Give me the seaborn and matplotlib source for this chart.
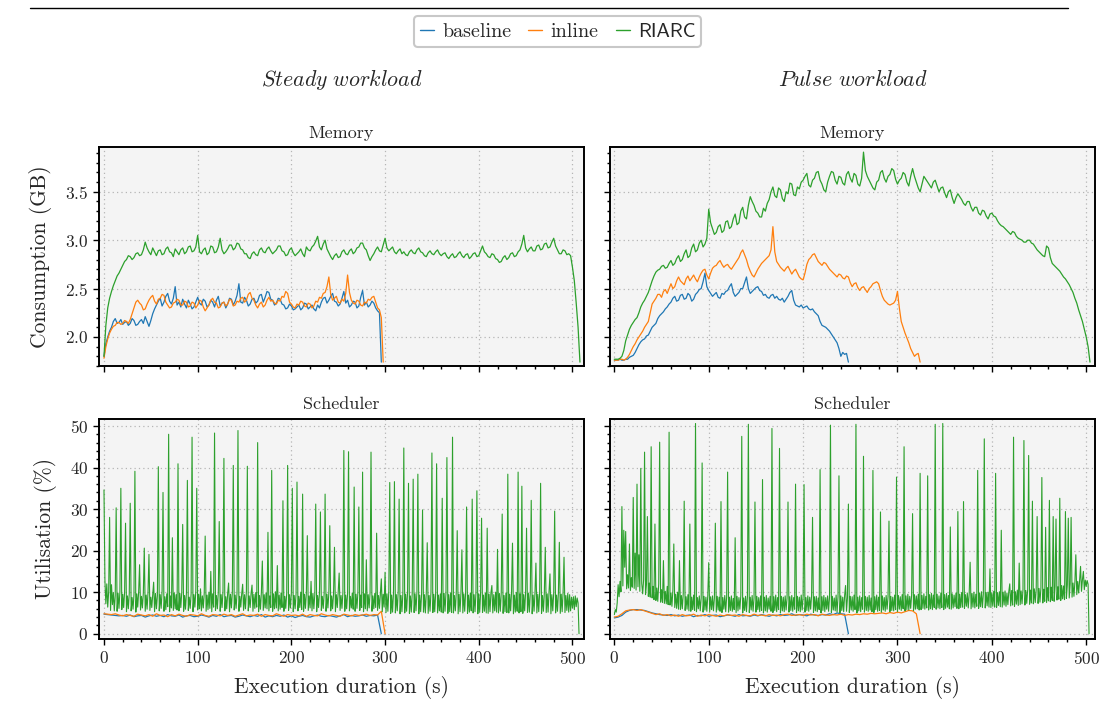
import numpy as np
import matplotlib
matplotlib.use("Agg")
import matplotlib.pyplot as plt
import seaborn as sns
from matplotlib.lines import Line2D
from matplotlib.ticker import MultipleLocator

# ---- memory consumption (GB), one sample every 2 s ----
steady_mem_baseline = [
    1.80, 1.93, 2.00, 2.06, 2.10, 2.16, 2.19, 2.14, 2.15, 2.18,
    2.13, 2.15, 2.16, 2.12, 2.14, 2.19, 2.17, 2.12, 2.13, 2.16,
    2.18, 2.14, 2.21, 2.16, 2.11, 2.17, 2.24, 2.29, 2.33, 2.37,
    2.40, 2.32, 2.36, 2.42, 2.45, 2.37, 2.34, 2.40, 2.52, 2.33,
    2.36, 2.31, 2.39, 2.34, 2.30, 2.38, 2.34, 2.29, 2.31, 2.36,
    2.41, 2.35, 2.33, 2.39, 2.37, 2.31, 2.33, 2.38, 2.36, 2.31,
    2.38, 2.42, 2.32, 2.35, 2.36, 2.30, 2.34, 2.40, 2.39, 2.33,
    2.37, 2.43, 2.55, 2.36, 2.35, 2.41, 2.38, 2.32, 2.34, 2.39,
    2.40, 2.35, 2.37, 2.43, 2.44, 2.36, 2.41, 2.47, 2.46, 2.39,
    2.38, 2.33, 2.35, 2.40, 2.39, 2.34, 2.33, 2.29, 2.30, 2.34,
    2.32, 2.28, 2.29, 2.31, 2.33, 2.28, 2.30, 2.35, 2.34, 2.29,
    2.31, 2.33, 2.29, 2.27, 2.33, 2.30, 2.36, 2.40, 2.41, 2.35,
    2.38, 2.42, 2.45, 2.37, 2.36, 2.32, 2.34, 2.40, 2.47, 2.35,
    2.38, 2.31, 2.33, 2.37, 2.36, 2.30, 2.32, 2.41, 2.48, 2.33,
    2.36, 2.31, 2.33, 2.37, 2.35, 2.30, 2.27, 2.25, 1.74]
steady_mem_inline = [
    1.78, 1.90, 1.98, 2.04, 2.08, 2.11, 2.12, 2.15, 2.15, 2.13,
    2.14, 2.17, 2.16, 2.14, 2.18, 2.24, 2.30, 2.36, 2.38, 2.35,
    2.33, 2.28, 2.29, 2.34, 2.38, 2.41, 2.43, 2.37, 2.34, 2.39,
    2.40, 2.44, 2.43, 2.36, 2.33, 2.30, 2.31, 2.35, 2.36, 2.39,
    2.38, 2.33, 2.33, 2.37, 2.36, 2.31, 2.32, 2.36, 2.35, 2.30,
    2.33, 2.38, 2.37, 2.31, 2.27, 2.30, 2.33, 2.38, 2.40, 2.36,
    2.35, 2.30, 2.31, 2.35, 2.36, 2.32, 2.34, 2.39, 2.38, 2.32,
    2.33, 2.37, 2.36, 2.40, 2.41, 2.36, 2.38, 2.44, 2.46, 2.40,
    2.38, 2.33, 2.30, 2.34, 2.36, 2.31, 2.33, 2.38, 2.41, 2.37,
    2.38, 2.35, 2.34, 2.38, 2.37, 2.42, 2.41, 2.47, 2.45, 2.36,
    2.34, 2.31, 2.30, 2.34, 2.33, 2.37, 2.36, 2.32, 2.31, 2.35,
    2.34, 2.30, 2.32, 2.37, 2.36, 2.41, 2.40, 2.45, 2.46, 2.52,
    2.62, 2.44, 2.38, 2.40, 2.42, 2.36, 2.35, 2.39, 2.37, 2.45,
    2.64, 2.46, 2.38, 2.35, 2.34, 2.38, 2.37, 2.33, 2.32, 2.36,
    2.35, 2.39, 2.38, 2.41, 2.42, 2.36, 2.30, 2.28, 2.20, 1.74]
steady_mem_riarc = [
    1.80, 2.12, 2.30, 2.40, 2.47, 2.53, 2.58, 2.63, 2.66, 2.70,
    2.74, 2.78, 2.80, 2.84, 2.83, 2.80, 2.82, 2.86, 2.87, 2.84,
    2.85, 2.90, 2.98, 2.92, 2.88, 2.85, 2.92, 2.88, 2.84, 2.89,
    2.90, 2.85, 2.86, 2.91, 2.93, 2.88, 2.87, 2.83, 2.91, 2.88,
    2.85, 2.90, 2.92, 2.86, 2.88, 2.93, 2.94, 2.88, 2.89, 2.93,
    3.05, 2.88, 2.86, 2.90, 2.92, 2.85, 2.87, 2.94, 2.93, 2.87,
    2.88, 2.93, 3.02, 2.90, 2.86, 2.88, 2.91, 2.95, 2.95, 2.90,
    2.92, 2.97, 2.96, 2.91, 2.90, 2.86, 2.86, 2.82, 2.81, 2.86,
    2.88, 2.85, 2.84, 2.90, 2.92, 2.88, 2.87, 2.91, 2.93, 2.89,
    2.86, 2.88, 2.90, 2.94, 2.94, 2.89, 2.88, 2.84, 2.85, 2.90,
    2.92, 2.87, 2.84, 2.86, 2.88, 2.91, 2.86, 2.83, 2.93, 2.90,
    2.89, 2.93, 2.95, 2.99, 3.04, 2.93, 2.90, 2.96, 3.00, 2.91,
    2.87, 2.83, 2.80, 2.84, 2.86, 2.82, 2.83, 2.88, 2.90, 2.86,
    2.85, 2.89, 2.91, 2.86, 2.88, 2.92, 2.93, 2.97, 2.97, 2.92,
    2.90, 2.84, 2.79, 2.83, 2.86, 2.90, 2.93, 2.89, 2.88, 2.95,
    3.02, 2.92, 2.89, 2.91, 2.93, 2.88, 2.86, 2.89, 2.91, 2.86,
    2.88, 2.85, 2.84, 2.88, 2.90, 2.87, 2.86, 2.90, 2.92, 2.88,
    2.87, 2.84, 2.83, 2.87, 2.89, 2.86, 2.85, 2.88, 2.90, 2.86,
    2.84, 2.86, 2.87, 2.83, 2.81, 2.84, 2.86, 2.82, 2.83, 2.86,
    2.88, 2.84, 2.82, 2.85, 2.86, 2.81, 2.83, 2.86, 2.87, 2.83,
    2.84, 2.89, 2.94, 2.88, 2.86, 2.83, 2.82, 2.86, 2.85, 2.81,
    2.80, 2.77, 2.78, 2.82, 2.84, 2.80, 2.82, 2.86, 2.87, 2.83,
    2.84, 2.88, 2.90, 2.96, 3.05, 2.92, 2.88, 2.91, 2.93, 2.89,
    2.89, 2.94, 2.95, 2.90, 2.91, 2.96, 2.97, 2.92, 2.93, 2.98,
    3.02, 2.94, 2.90, 2.86, 2.86, 2.90, 2.89, 2.85, 2.86, 2.84,
    2.72, 2.58, 2.35, 2.10, 1.74]
pulse_mem_baseline = [
    1.76, 1.76, 1.76, 1.77, 1.76, 1.76, 1.77, 1.77, 1.79, 1.80,
    1.81, 1.84, 1.88, 1.92, 1.95, 1.97, 1.98, 2.01, 2.02, 2.06,
    2.10, 2.12, 2.14, 2.19, 2.22, 2.24, 2.26, 2.29, 2.31, 2.34,
    2.36, 2.40, 2.42, 2.37, 2.38, 2.43, 2.44, 2.39, 2.40, 2.45,
    2.43, 2.37, 2.39, 2.44, 2.46, 2.49, 2.50, 2.57, 2.66, 2.52,
    2.48, 2.45, 2.42, 2.44, 2.46, 2.41, 2.40, 2.45, 2.44, 2.47,
    2.48, 2.52, 2.55, 2.46, 2.42, 2.44, 2.46, 2.50, 2.50, 2.56,
    2.62, 2.50, 2.45, 2.47, 2.49, 2.51, 2.52, 2.48, 2.47, 2.43,
    2.44, 2.41, 2.40, 2.43, 2.44, 2.40, 2.42, 2.39, 2.38, 2.40,
    2.36, 2.39, 2.42, 2.46, 2.48, 2.38, 2.33, 2.32, 2.31, 2.33,
    2.30, 2.31, 2.32, 2.29, 2.28, 2.29, 2.26, 2.24, 2.22, 2.16,
    2.12, 2.11, 2.10, 2.08, 2.06, 2.03, 2.00, 1.97, 1.94, 1.88,
    1.80, 1.84, 1.82, 1.83, 1.74]
pulse_mem_inline = [
    1.76, 1.76, 1.76, 1.77, 1.77, 1.76, 1.77, 1.79, 1.82, 1.86,
    1.90, 1.93, 1.97, 2.00, 2.03, 2.06, 2.10, 2.13, 2.16, 2.25,
    2.34, 2.37, 2.40, 2.44, 2.44, 2.41, 2.47, 2.49, 2.45, 2.50,
    2.55, 2.50, 2.52, 2.58, 2.62, 2.58, 2.56, 2.54, 2.60, 2.63,
    2.58, 2.61, 2.64, 2.60, 2.57, 2.62, 2.66, 2.69, 2.70, 2.64,
    2.60, 2.66, 2.71, 2.73, 2.74, 2.77, 2.79, 2.75, 2.72, 2.74,
    2.75, 2.72, 2.70, 2.73, 2.76, 2.79, 2.82, 2.87, 2.90, 2.85,
    2.80, 2.73, 2.68, 2.64, 2.62, 2.66, 2.70, 2.73, 2.76, 2.78,
    2.80, 2.82, 2.84, 2.90, 3.14, 2.88, 2.78, 2.75, 2.72, 2.70,
    2.68, 2.71, 2.73, 2.69, 2.65, 2.68, 2.70, 2.66, 2.62, 2.60,
    2.59, 2.66, 2.75, 2.80, 2.82, 2.85, 2.86, 2.82, 2.78, 2.76,
    2.74, 2.77, 2.76, 2.73, 2.70, 2.68, 2.66, 2.64, 2.62, 2.65,
    2.64, 2.61, 2.60, 2.63, 2.62, 2.56, 2.52, 2.55, 2.56, 2.51,
    2.48, 2.51, 2.52, 2.49, 2.46, 2.50, 2.52, 2.55, 2.56, 2.57,
    2.55, 2.48, 2.42, 2.38, 2.36, 2.34, 2.33, 2.34, 2.35, 2.38,
    2.47, 2.30, 2.16, 2.10, 2.04, 1.99, 1.94, 1.88, 1.84, 1.80,
    1.82, 1.83, 1.74]
pulse_mem_riarc = [
    1.77, 1.77, 1.77, 1.78, 1.80, 1.86, 1.96, 2.02, 2.08, 2.12,
    2.15, 2.18, 2.20, 2.25, 2.31, 2.35, 2.38, 2.42, 2.46, 2.52,
    2.58, 2.63, 2.67, 2.69, 2.70, 2.73, 2.74, 2.71, 2.72, 2.76,
    2.79, 2.74, 2.76, 2.81, 2.84, 2.78, 2.80, 2.86, 2.90, 2.82,
    2.84, 2.92, 2.96, 2.88, 2.90, 2.97, 3.00, 2.93, 2.96, 3.02,
    3.32, 3.18, 3.12, 3.06, 3.08, 3.14, 3.16, 3.08, 3.10, 3.19,
    3.20, 3.12, 3.14, 3.22, 3.27, 3.16, 3.18, 3.30, 3.34, 3.24,
    3.22, 3.36, 3.45, 3.40, 3.36, 3.30, 3.28, 3.24, 3.24, 3.33,
    3.30, 3.38, 3.42, 3.50, 3.55, 3.46, 3.44, 3.54, 3.52, 3.43,
    3.40, 3.50, 3.48, 3.59, 3.58, 3.47, 3.46, 3.55, 3.53, 3.60,
    3.62, 3.66, 3.69, 3.57, 3.55, 3.62, 3.64, 3.70, 3.71, 3.62,
    3.58, 3.52, 3.50, 3.60, 3.66, 3.71, 3.70, 3.62, 3.58, 3.66,
    3.65, 3.59, 3.57, 3.68, 3.71, 3.64, 3.60, 3.69, 3.67, 3.58,
    3.56, 3.64, 3.91, 3.72, 3.66, 3.62, 3.58, 3.54, 3.52, 3.60,
    3.62, 3.70, 3.72, 3.64, 3.60, 3.66, 3.68, 3.74, 3.72, 3.63,
    3.58, 3.62, 3.64, 3.70, 3.68, 3.60, 3.56, 3.66, 3.74, 3.66,
    3.60, 3.54, 3.50, 3.58, 3.66, 3.63, 3.60, 3.57, 3.54, 3.60,
    3.62, 3.56, 3.50, 3.54, 3.55, 3.49, 3.44, 3.50, 3.52, 3.44,
    3.38, 3.44, 3.48, 3.45, 3.42, 3.38, 3.36, 3.40, 3.40, 3.34,
    3.30, 3.34, 3.34, 3.28, 3.26, 3.31, 3.30, 3.25, 3.22, 3.27,
    3.28, 3.25, 3.24, 3.20, 3.17, 3.15, 3.14, 3.12, 3.10, 3.08,
    3.06, 3.09, 3.08, 3.04, 3.02, 3.01, 3.00, 2.98, 2.98, 3.00,
    3.00, 2.97, 2.96, 2.93, 2.90, 2.88, 2.86, 2.84, 2.83, 2.94,
    2.92, 2.82, 2.76, 2.74, 2.72, 2.70, 2.68, 2.65, 2.62, 2.60,
    2.57, 2.54, 2.50, 2.46, 2.40, 2.35, 2.28, 2.22, 2.16, 2.08,
    2.00, 1.90, 1.74]

# ---- scheduler utilisation (%), baseline / inline every 4 s ----
steady_sched_baseline = [
    4.7, 4.6, 4.5, 4.4, 4.3, 4.4, 4.2, 4.5, 4.1, 4.3, 4.4, 4.0, 4.3, 4.5, 4.2, 4.4, 4.1, 4.6, 4.3, 4.2,
    4.5, 4.0, 4.3, 4.4, 4.1, 4.2, 4.5, 4.3, 4.0, 4.4, 4.2, 4.6, 4.1, 4.3, 4.4, 4.0, 4.2, 4.5, 4.3, 4.1,
    4.4, 4.2, 4.6, 4.0, 4.3, 4.1, 4.4, 4.2, 4.5, 4.0, 4.3, 3.9, 4.2, 4.4, 4.1, 4.0, 4.3, 4.5, 4.2, 4.1,
    4.4, 4.2, 4.0, 4.3, 4.6, 4.1, 4.4, 4.2, 4.3, 4.5, 4.2, 4.4, 4.3, 4.5, 0.0]
steady_sched_inline = [
    4.8, 4.7, 4.6, 4.8, 4.5, 4.3, 4.6, 4.4, 4.2, 4.7, 4.5, 4.3, 4.6, 4.2, 4.8, 4.4, 4.5, 4.1, 4.6, 4.3,
    4.7, 4.4, 4.2, 4.6, 4.5, 4.3, 4.8, 4.4, 4.2, 4.6, 4.5, 4.3, 4.7, 4.4, 4.6, 4.2, 4.5, 4.8, 4.3, 4.5,
    4.4, 4.7, 4.2, 4.6, 4.4, 4.3, 4.8, 4.5, 4.2, 4.6, 4.4, 4.5, 4.3, 4.7, 4.2, 4.6, 4.4, 4.3, 4.8, 4.5,
    4.3, 4.6, 4.4, 4.2, 4.7, 4.5, 4.3, 4.6, 4.4, 4.5, 4.7, 4.4, 4.6, 4.5, 5.4, 0.0]
pulse_sched_baseline = [
    3.8, 4.0, 4.4, 5.2, 5.6, 5.8, 5.8, 5.7, 5.6, 5.3, 5.0, 4.8, 4.6, 4.5, 4.4, 4.6, 4.3, 4.5, 4.2, 4.4,
    4.5, 4.1, 4.4, 4.3, 4.6, 4.2, 4.4, 4.5, 4.1, 4.3, 4.5, 4.4, 4.2, 4.6, 4.3, 4.4, 4.2, 4.5, 4.3, 4.6,
    4.4, 4.2, 4.5, 4.3, 4.6, 4.4, 4.5, 4.8, 4.4, 4.6, 4.5, 4.3, 4.7, 4.5, 4.4, 4.6, 4.5, 4.8, 4.6, 5.0,
    4.8, 4.7, 0.0]
pulse_sched_inline = [
    4.0, 4.2, 4.8, 5.5, 5.7, 5.8, 5.6, 5.8, 5.5, 5.2, 4.9, 4.6, 4.8, 4.4, 4.6, 4.3, 4.5, 4.2, 4.6, 4.3,
    4.4, 4.7, 4.2, 4.5, 4.3, 4.6, 4.4, 4.2, 4.5, 4.3, 4.6, 4.4, 4.5, 4.2, 4.6, 4.4, 4.3, 4.7, 4.4, 4.5,
    4.3, 4.6, 4.4, 4.5, 4.3, 4.6, 4.7, 4.4, 4.5, 4.6, 4.4, 4.7, 4.5, 4.6, 4.3, 4.7, 4.5, 4.4, 4.6, 4.5,
    4.7, 4.4, 4.6, 4.5, 4.7, 4.6, 4.8, 4.7, 4.9, 4.8, 4.9, 5.0, 4.8, 5.1, 4.9, 5.2, 5.0, 5.3, 5.6, 5.5,
    4.8, 0.0]

# ---- scheduler utilisation (%), RIARC every 1 s ----
steady_sched_riarc = [
    34.6, 12.8, 7.2, 12.0, 6.4, 10.1, 28.0, 5.6, 11.8, 7.0, 9.9, 5.5, 9.2, 30.3, 5.4, 9.7, 6.1, 10.2, 35.0, 5.8,
    9.5, 6.3, 10.0, 26.6, 5.3, 9.1, 6.0, 9.8, 31.4, 5.5, 8.7, 5.9, 9.4, 39.1, 5.2, 9.6, 6.4, 10.1, 16.6, 5.7,
    9.0, 6.2, 9.8, 20.6, 5.4, 9.3, 5.9, 10.0, 19.1, 5.6, 8.8, 6.3, 9.5, 12.4, 5.3, 9.7, 6.0, 9.2, 40.2, 5.5,
    9.4, 6.1, 10.2, 34.0, 5.4, 8.9, 5.8, 9.6, 6.5, 48.0, 5.3, 9.1, 6.2, 23.1, 5.6, 9.8, 6.0, 9.4, 5.7, 40.9,
    5.5, 9.7, 6.3, 10.0, 26.3, 5.4, 9.2, 5.9, 9.9, 36.9, 5.6, 8.8, 6.1, 9.6, 47.3, 5.3, 9.4, 6.4, 10.3, 35.0,
    5.7, 9.5, 6.0, 10.8, 5.5, 9.1, 6.2, 9.8, 23.5, 5.4, 9.3, 5.8, 10.0, 6.1, 15.0, 5.3, 9.6, 6.4, 48.3, 5.6,
    9.2, 6.0, 9.9, 27.0, 5.4, 9.4, 6.3, 10.1, 42.2, 5.5, 8.9, 6.0, 9.7, 12.2, 5.3, 9.5, 6.2, 10.0, 40.5, 5.7,
    9.3, 6.1, 9.8, 48.9, 5.4, 9.0, 6.4, 9.6, 11.9, 5.6, 9.4, 6.0, 10.2, 40.3, 5.5, 9.1, 6.3, 9.7, 11.7, 5.4,
    9.5, 6.1, 9.9, 6.4, 46.0, 5.3, 9.2, 5.9, 10.0, 17.5, 5.6, 9.4, 6.2, 9.8, 6.0, 24.4, 5.5, 9.1, 6.3, 39.3,
    5.4, 9.6, 6.0, 10.1, 6.2, 16.4, 5.5, 9.3, 5.9, 9.8, 6.3, 32.0, 5.4, 9.0, 6.1, 9.7, 40.5, 5.6, 9.4, 6.2,
    9.9, 35.0, 5.3, 9.2, 6.0, 9.6, 36.5, 5.5, 9.0, 6.3, 10.0, 5.8, 33.6, 5.4, 9.5, 6.1, 9.8, 23.6, 5.6, 9.1,
    6.2, 12.6, 5.5, 9.7, 6.0, 9.4, 31.2, 5.3, 9.2, 6.3, 9.9, 29.3, 5.6, 9.0, 6.1, 9.7, 33.6, 5.4, 9.5, 6.2,
    9.8, 26.0, 5.5, 9.1, 6.0, 9.6, 20.8, 5.3, 9.4, 6.3, 10.1, 14.6, 5.6, 9.2, 6.1, 9.9, 44.1, 5.4, 9.3, 6.0,
    9.7, 43.8, 5.5, 9.0, 6.2, 9.8, 5.9, 35.3, 5.4, 9.5, 6.1, 10.0, 30.5, 5.6, 9.3, 6.3, 38.9, 5.3, 9.6, 6.0,
    17.8, 5.5, 9.4, 6.2, 9.9, 43.7, 5.4, 9.1, 6.0, 9.7, 6.3, 24.2, 5.6, 9.2, 6.1, 9.8, 13.2, 5.3, 9.5, 6.4,
    14.8, 5.1, 9.6, 5.4, 10.2, 36.4, 4.9, 9.3, 5.2, 9.9, 36.6, 5.0, 9.4, 5.5, 10.1, 32.4, 4.8, 9.2, 5.3, 9.7,
    44.7, 5.0, 9.5, 5.4, 9.9, 36.2, 4.9, 9.1, 5.2, 9.8, 37.2, 5.1, 9.6, 5.5, 10.0, 38.4, 4.8, 9.3, 5.3, 9.7,
    29.8, 5.2, 9.4, 5.0, 9.9, 21.9, 4.9, 9.2, 5.4, 10.1, 43.5, 5.1, 9.5, 5.3, 9.8, 40.9, 5.0, 9.3, 5.5, 9.6,
    5.2, 32.6, 5.0, 9.7, 5.4, 9.9, 42.4, 4.9, 9.4, 5.3, 9.8, 5.1, 47.3, 5.0, 9.2, 5.5, 10.0, 24.8, 4.8, 9.5,
    5.3, 9.9, 20.2, 5.0, 9.6, 5.4, 10.1, 30.5, 4.9, 9.3, 5.2, 9.8, 5.5, 32.4, 5.0, 9.4, 5.3, 9.9, 34.4, 4.8,
    9.6, 5.2, 10.0, 27.8, 5.1, 9.3, 5.4, 9.8, 5.0, 25.4, 4.9, 9.5, 5.3, 9.9, 11.6, 5.0, 9.4, 5.5, 10.0, 5.2,
    20.3, 5.0, 9.7, 5.4, 9.9, 28.8, 4.9, 9.2, 5.3, 9.8, 5.1, 38.4, 5.0, 9.5, 5.5, 10.1, 21.8, 4.8, 9.3, 5.2,
    9.9, 5.4, 38.9, 5.0, 9.6, 5.3, 35.5, 4.9, 9.4, 5.5, 10.0, 25.4, 5.1, 9.7, 5.2, 9.9, 32.1, 4.8, 9.3, 5.4,
    9.8, 17.0, 5.0, 9.5, 5.3, 10.0, 36.2, 4.9, 9.2, 5.4, 9.9, 20.8, 5.1, 9.6, 5.2, 10.1, 14.4, 4.8, 9.4, 5.5,
    9.9, 29.5, 5.0, 9.3, 5.4, 9.8, 22.0, 4.9, 9.5, 5.3, 10.0, 18.4, 5.1, 9.2, 5.6, 9.7, 5.2, 9.4, 5.5, 8.8,
    6.2, 8.9, 5.8, 9.1, 6.5, 8.6, 7.4, 0.0]
pulse_sched_riarc = [
    4.6, 5.8, 5.2, 7.4, 11.8, 8.9, 12.6, 10.1, 30.6, 11.5, 24.9, 16.0, 24.6, 10.8, 14.2, 11.0, 21.6, 10.4, 13.5, 11.2,
    32.8, 10.9, 19.4, 10.5, 36.0, 11.3, 19.0, 10.2, 39.8, 12.1, 9.6, 13.0, 43.7, 9.4, 11.8, 28.2, 9.0, 12.2, 8.8, 45.0,
    8.6, 11.4, 8.2, 26.4, 8.0, 11.0, 7.8, 12.0, 46.1, 7.6, 10.6, 7.5, 17.6, 7.3, 10.2, 7.2, 11.4, 7.0, 48.5, 6.9,
    9.8, 6.6, 10.4, 21.6, 6.3, 9.5, 6.1, 10.0, 5.9, 17.6, 5.8, 9.2, 6.0, 9.7, 31.9, 5.6, 8.9, 5.9, 9.4, 5.5,
    26.4, 5.4, 8.8, 5.8, 9.3, 5.6, 50.6, 5.3, 8.7, 6.0, 9.1, 5.5, 8.6, 41.1, 5.2, 9.0, 5.7, 8.8, 5.4, 9.2,
    17.1, 5.3, 8.9, 5.8, 9.1, 5.5, 8.6, 26.6, 5.2, 9.0, 5.7, 8.8, 5.4, 31.8, 5.1, 8.7, 5.9, 9.2, 5.3, 8.9,
    38.9, 5.2, 8.8, 5.6, 9.1, 5.4, 8.5, 5.8, 23.1, 5.1, 9.0, 5.5, 8.7, 5.9, 9.2, 47.5, 5.0, 8.6, 5.6, 9.0,
    5.3, 8.9, 50.4, 5.1, 8.8, 5.7, 9.2, 5.4, 8.6, 31.7, 5.2, 9.0, 5.8, 8.7, 5.3, 9.1, 5.6, 37.1, 5.0, 8.8,
    5.5, 9.2, 5.2, 8.6, 5.9, 9.0, 5.4, 49.4, 5.1, 8.9, 5.6, 9.3, 5.3, 8.7, 5.8, 44.6, 5.0, 9.0, 5.5, 8.8,
    5.3, 9.1, 5.7, 8.6, 31.7, 5.2, 8.9, 5.6, 9.2, 5.4, 8.7, 5.9, 36.0, 5.1, 9.0, 5.5, 8.8, 5.3, 9.3, 5.7,
    8.9, 35.9, 5.2, 8.7, 5.6, 9.1, 5.4, 8.8, 5.9, 9.2, 28.0, 5.1, 8.9, 5.5, 9.0, 5.3, 8.6, 5.8, 39.5, 5.0,
    8.9, 5.6, 9.2, 5.3, 8.7, 5.9, 9.1, 5.4, 8.8, 50.2, 5.1, 9.0, 5.7, 8.6, 5.5, 9.3, 5.2, 8.9, 38.0, 5.0,
    9.1, 5.6, 8.8, 5.3, 9.2, 11.6, 5.4, 8.7, 31.2, 5.1, 9.0, 5.7, 8.9, 5.4, 9.3, 5.8, 50.4, 5.0, 8.8, 5.5,
    9.1, 5.3, 8.7, 5.9, 42.7, 5.2, 9.0, 5.6, 8.8, 5.4, 9.2, 5.7, 8.6, 5.3, 39.3, 5.1, 8.9, 5.8, 9.3, 5.4,
    8.8, 5.6, 29.3, 5.2, 9.1, 5.7, 8.7, 5.4, 9.2, 5.9, 8.9, 27.1, 5.3, 9.0, 5.6, 8.8, 5.5, 9.3, 5.8, 37.7,
    5.4, 9.2, 5.9, 8.9, 5.6, 9.4, 6.0, 45.0, 5.5, 9.1, 5.8, 9.5, 5.7, 9.0, 6.1, 9.3, 28.9, 5.6, 9.4, 5.9,
    9.1, 6.0, 9.5, 5.7, 38.6, 5.8, 9.2, 6.1, 9.6, 5.9, 9.0, 6.2, 38.0, 5.7, 9.4, 6.0, 9.7, 5.8, 9.3, 6.3,
    50.4, 5.9, 9.5, 6.2, 9.1, 6.0, 9.8, 6.3, 50.6, 5.8, 9.4, 6.1, 9.7, 6.4, 9.2, 6.0, 25.7, 5.9, 9.6, 6.2,
    9.3, 6.5, 9.8, 6.1, 29.4, 6.0, 9.5, 6.3, 9.9, 6.4, 31.8, 6.1, 9.4, 6.6, 9.8, 6.2, 9.6, 17.2, 6.0, 9.7,
    6.4, 10.0, 6.2, 9.5, 6.6, 39.3, 6.1, 9.8, 6.5, 10.1, 6.3, 9.6, 46.9, 6.2, 9.9, 6.7, 10.0, 6.4, 15.6, 6.3,
    9.8, 6.6, 10.2, 6.4, 38.6, 6.3, 9.9, 6.8, 10.1, 6.5, 24.9, 6.4, 10.0, 6.9, 10.3, 6.6, 9.8, 7.0, 10.2, 12.0,
    6.7, 10.4, 6.9, 47.3, 6.6, 10.1, 7.1, 10.5, 6.8, 17.0, 7.0, 10.3, 7.2, 10.6, 46.5, 6.9, 10.4, 7.3, 10.7, 42.9,
    7.1, 10.5, 7.4, 31.9, 7.2, 10.8, 7.5, 10.6, 28.2, 7.3, 10.9, 7.6, 11.0, 37.6, 7.4, 10.7, 7.8, 25.6, 7.5, 11.1,
    7.9, 32.1, 7.7, 11.2, 8.0, 28.2, 7.8, 11.4, 27.6, 8.1, 11.3, 8.3, 32.6, 8.0, 11.6, 8.4, 11.5, 8.2, 29.4, 8.5,
    11.8, 27.8, 8.6, 12.0, 28.0, 8.8, 12.2, 9.0, 12.4, 19.0, 9.4, 12.6, 9.8, 12.8, 16.2, 10.2, 13.0, 15.0, 10.6, 12.9,
    11.4, 12.8, 11.9, 0.0]

colors = {"baseline": "#1f77b4", "inline": "#ff7f0e", "RIARC": "#2ca02c"}

sns.set_style("ticks")
plt.rcParams["font.family"] = ["cmr10", "DejaVu Serif"]
plt.rcParams["mathtext.fontset"] = "cm"
plt.rcParams["axes.formatter.use_mathtext"] = True
plt.rcParams["axes.unicode_minus"] = False

fig = plt.figure(figsize=(11.01, 7.02), dpi=100)
W, H = 1101, 702


def box(l, t, r, b):
    return [l / W, 1 - b / H, (r - l) / W, (b - t) / H]


ax_sm = fig.add_axes(box(99.3, 147.3, 583.7, 366))
ax_pm = fig.add_axes(box(610.3, 147.3, 1094.7, 366), sharey=ax_sm)
ax_ss = fig.add_axes(box(99.3, 418.7, 583.7, 638.7), sharex=ax_sm)
ax_ps = fig.add_axes(box(610.3, 418.7, 1094.7, 638.7), sharex=ax_pm, sharey=ax_ss)


def draw(ax, vals, step, name, lw=0.9):
    t = np.arange(len(vals)) * step
    sns.lineplot(x=t, y=vals, ax=ax, color=colors[name], lw=lw, legend=False)


draw(ax_sm, steady_mem_baseline, 2, "baseline")
draw(ax_sm, steady_mem_inline, 2, "inline")
draw(ax_sm, steady_mem_riarc, 2, "RIARC")
draw(ax_pm, pulse_mem_baseline, 2, "baseline")
draw(ax_pm, pulse_mem_inline, 2, "inline")
draw(ax_pm, pulse_mem_riarc, 2, "RIARC")
draw(ax_ss, steady_sched_baseline, 4, "baseline")
draw(ax_ss, steady_sched_inline, 4, "inline")
draw(ax_ss, steady_sched_riarc, 1, "RIARC", lw=0.8)
draw(ax_ps, pulse_sched_baseline, 4, "baseline")
draw(ax_ps, pulse_sched_inline, 4, "inline")
draw(ax_ps, pulse_sched_riarc, 1, "RIARC", lw=0.8)

for ax in [ax_sm, ax_pm, ax_ss, ax_ps]:
    ax.set_facecolor("#f4f4f4")
    ax.grid(True, which="major", ls=(0, (1, 2.5)), color="#b5b5b5", lw=0.9)
    ax.xaxis.set_major_locator(MultipleLocator(100))
    ax.xaxis.set_minor_locator(MultipleLocator(20))
    ax.tick_params(which="both", direction="out", top=False, right=False, labelsize=12.5, width=1.0, color="black")
    ax.tick_params(which="major", length=4.5)
    ax.tick_params(which="minor", length=2.5)
    for s in ax.spines.values():
        s.set_linewidth(1.4)
        s.set_color("black")
    ax.set_xlabel("")
    ax.set_ylabel("")

ax_sm.set_xlim(-5, 512)
ax_pm.set_xlim(-4.3, 509)
ax_sm.set_ylim(1.70, 3.96)
ax_ss.set_ylim(-1.2, 51.75)
ax_sm.yaxis.set_major_locator(MultipleLocator(0.5))
ax_sm.yaxis.set_minor_locator(MultipleLocator(0.1))
ax_ss.yaxis.set_major_locator(MultipleLocator(10))
ax_ss.yaxis.set_minor_locator(MultipleLocator(2))

for ax in [ax_sm, ax_pm]:
    ax.tick_params(labelbottom=False)
    ax.set_title("Memory", fontsize=13, pad=7)
for ax in [ax_ss, ax_ps]:
    ax.set_title("Scheduler", fontsize=13, pad=7)
    ax.set_xlabel("Execution duration (s)", fontsize=15.5, labelpad=6.5)
for ax in [ax_pm, ax_ps]:
    ax.tick_params(labelleft=False)

ax_sm.set_ylabel("Consumption (GB)", fontsize=15.5, labelpad=9)
ax_ss.set_ylabel("Utilisation (%)", fontsize=15.5, labelpad=9)

fig.text(341.5 / W, 1 - 86 / H, r"$\mathit{Steady\ workload}$", ha="center", va="baseline", fontsize=15.8)
fig.text(852.5 / W, 1 - 86 / H, r"$\mathit{Pulse\ workload}$", ha="center", va="baseline", fontsize=15.8)

handles = [Line2D([], [], color=colors[k], lw=1.0) for k in colors]
leg = fig.legend(handles, list(colors), loc="center", bbox_to_anchor=(557.5 / W, 1 - 31.5 / H),
                 ncol=3, fontsize=14.5, handlelength=0.7, handletextpad=0.4, columnspacing=0.85,
                 frameon=True, fancybox=True, framealpha=1, edgecolor="#c8c8c8", borderpad=0.3)
leg.get_frame().set_linewidth(1.5)
leg.get_texts()[2].set_family("cmss10")

fig.add_artist(Line2D([30 / W, 1068 / W], [1 - 8 / H, 1 - 8 / H], transform=fig.transFigure,
                      color="black", lw=1.0))

fig.savefig("out.png", dpi=100)
